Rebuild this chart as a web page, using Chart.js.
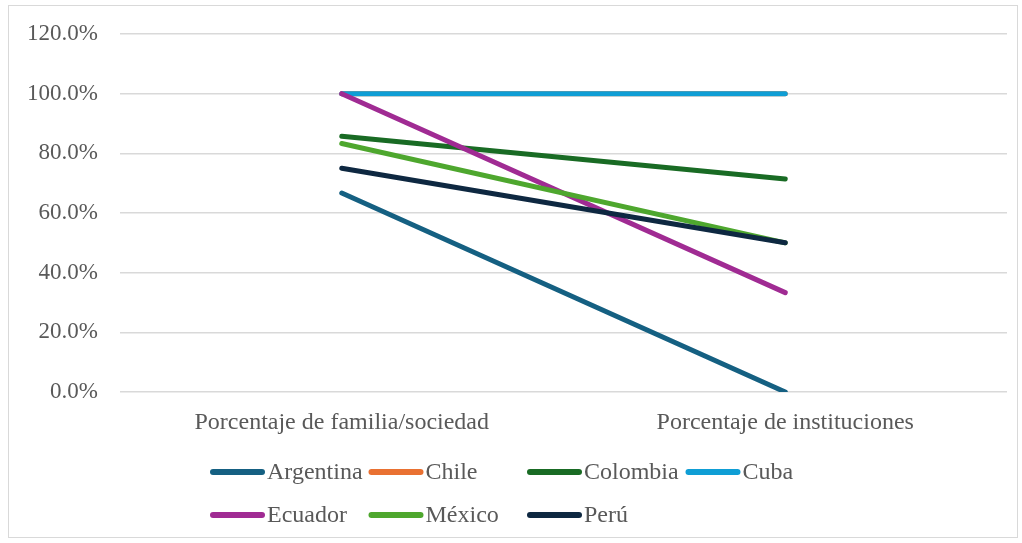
<!DOCTYPE html>
<html>
<head>
<meta charset="utf-8">
<script src="https://cdn.jsdelivr.net/npm/chart.js@4/dist/chart.umd.min.js"></script>
<style>
  html, body { margin: 0; padding: 0; background: #ffffff; }
  #box { position: absolute; left: 8px; top: 5px; width: 1008px; height: 531px; border: 1px solid #d9d9d9; background: #fff; }
  #c { display: block; }
  .pre { font-family: 'Liberation Serif'; position: absolute; left: -9999px; }
</style>
</head>
<body>
<span class="pre">Porcentaje 120.0%</span>
<div id="box"><canvas id="c" width="1008" height="531"></canvas></div>
<script>
const categories = ["Porcentaje de familia/sociedad", "Porcentaje de instituciones"];
const seriesNames = ["Argentina", "Chile", "Colombia", "Cuba", "Ecuador", "México", "Perú"];
const argentina = [0.667, 0.0];
const chile = [1.0, 1.0];
const colombia = [0.857, 0.714];
const cuba = [1.0, 1.0];
const ecuador = [1.0, 0.333];
const mexico = [0.833, 0.5];
const peru = [0.75, 0.5];
const seriesColors = ["#156082", "#E97132", "#196B24", "#0F9ED5", "#A02B93", "#4EA72E", "#0E2841"];
const yTickMin = 0, yTickMax = 1.2, yTickStep = 0.2;

const seriesValues = [argentina, chile, colombia, cuba, ecuador, mexico, peru];
const FONT = '"Liberation Serif", "Times New Roman", serif';
const TEXT = "#595959";
const FSIZE = 23;
const FSIZE_L = 24;

function build() {
  const datasets = seriesNames.map((name, i) => ({
    label: name,
    data: seriesValues[i],
    borderColor: seriesColors[i],
    backgroundColor: seriesColors[i],
    borderWidth: 5,
    borderCapStyle: 'round',
    borderJoinStyle: 'round',
    pointRadius: 0,
    pointHoverRadius: 0,
    fill: false,
    tension: 0,
    order: 20 - i
  }));

  const gridLegend = {
    id: 'gridLegend',
    afterDraw(chart) {
      const ctx = chart.ctx;
      const startX = 201, colW = 158.5, rowY = [466, 509], lineLen = 55;
      ctx.save();
      ctx.font = FSIZE_L + "px " + FONT;
      ctx.textBaseline = 'middle';
      ctx.textAlign = 'left';
      chart.data.datasets.forEach((ds, i) => {
        const col = i % 4, row = Math.floor(i / 4);
        const x = startX + col * colW, y = rowY[row];
        ctx.strokeStyle = ds.borderColor;
        ctx.lineWidth = 6;
        ctx.lineCap = 'round';
        ctx.beginPath();
        ctx.moveTo(x + 3, y);
        ctx.lineTo(x + lineLen - 3, y);
        ctx.stroke();
        ctx.fillStyle = TEXT;
        ctx.fillText(ds.label, x + lineLen + 2, y + 1);
      });
      ctx.restore();
    }
  };

  new Chart(document.getElementById('c'), {
    type: 'line',
    data: { labels: categories, datasets: datasets },
    options: {
      responsive: false,
      animation: false,
      layout: { padding: { top: 28, right: 10, left: 0, bottom: 0 } },
      plugins: {
        legend: { display: false },
        tooltip: { enabled: false }
      },
      scales: {
        x: {
          offset: true,
          grid: { display: false, drawTicks: false },
          border: { display: false },
          ticks: { color: TEXT, font: { family: FONT, size: FSIZE_L }, padding: 16, maxRotation: 0 },
          afterFit(scale) { scale.height = 145; scale.paddingLeft = 0; scale.paddingRight = 0; }
        },
        y: {
          min: yTickMin,
          max: yTickMax,
          grid: { color: '#d9d9d9', lineWidth: 1.5, drawTicks: false },
          border: { display: false },
          ticks: {
            stepSize: yTickStep,
            color: TEXT,
            font: { family: FONT, size: FSIZE },
            padding: 22,
            callback: v => (v * 100).toFixed(1) + '%'
          },
          afterFit(scale) { scale.width = 111; scale.paddingTop = 0; scale.paddingBottom = 0; }
        }
      }
    },
    plugins: [gridLegend]
  });
}

if (document.fonts && document.fonts.load) {
  document.fonts.load(FSIZE + 'px "Liberation Serif"').then(build, build);
} else {
  build();
}
</script>
</body>
</html>
